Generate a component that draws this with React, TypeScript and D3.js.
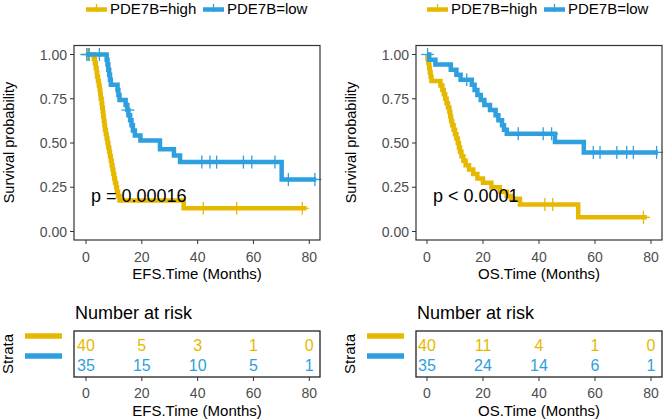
import React from 'react';
import * as d3 from 'd3';

const YELLOW = '#E7B800';
const BLUE = '#2E9FDF';
const strataLabels = ['PDE7B=high', 'PDE7B=low'];
const timeTicks = [0, 20, 40, 60, 80];
const survTicks = [0, 0.25, 0.5, 0.75, 1];
const survTickLabels = ['0.00', '0.25', '0.50', '0.75', '1.00'];

// EFS – high
const efsHighTime = [0, 2.8, 3.2, 3.5, 3.8, 4.0, 4.3, 4.6, 4.9, 5.1, 5.3, 5.6, 5.8, 6.0, 6.2, 6.4, 6.6, 6.8, 7.1, 7.4, 7.7, 8.0, 8.3, 8.6, 8.9, 9.2, 9.5, 9.8, 10.1, 10.4, 10.8, 11.1, 11.5, 12.0, 35.0, 79.0];
const efsHighSurv = [1, 0.975, 0.95, 0.925, 0.9, 0.875, 0.85, 0.825, 0.8, 0.775, 0.75, 0.725, 0.7, 0.675, 0.65, 0.625, 0.6, 0.575, 0.55, 0.525, 0.5, 0.475, 0.45, 0.425, 0.4, 0.375, 0.35, 0.325, 0.3, 0.275, 0.25, 0.225, 0.2, 0.175, 0.131, 0.131];
const efsHighCensor = [0.4, 1.2, 42, 54, 77.5];
// EFS – low
const efsLowTime = [0, 7.4, 7.7, 8.0, 8.3, 8.6, 8.9, 11.3, 11.6, 12.0, 14.2, 14.8, 15.2, 15.8, 16.3, 16.8, 17.5, 19.5, 26.5, 31.5, 33.7, 70.1, 82.5];
const efsLowSurv = [1, 0.971, 0.943, 0.914, 0.886, 0.857, 0.829, 0.8, 0.771, 0.743, 0.714, 0.686, 0.657, 0.629, 0.6, 0.571, 0.543, 0.514, 0.465, 0.43, 0.392, 0.294, 0.294];
const efsLowCensor = [0.3, 1.0, 4.8, 15.0, 41.5, 44.4, 46.8, 56.4, 59.4, 67.7, 72.5, 82.0];
// OS – high
const osHighTime = [0, 0.2, 0.5, 0.8, 1.0, 1.3, 1.6, 4.8, 5.5, 6.0, 6.5, 7.0, 7.5, 8.0, 8.3, 8.6, 9.0, 9.5, 10.0, 10.5, 11.0, 11.4, 11.8, 12.3, 13.0, 13.8, 15.0, 16.5, 18.0, 20.0, 23.0, 26.0, 28.5, 30.0, 33.2, 54.0, 78.5];
const osHighSurv = [1, 0.975, 0.95, 0.925, 0.9, 0.875, 0.85, 0.825, 0.8, 0.775, 0.75, 0.725, 0.7, 0.675, 0.65, 0.625, 0.6, 0.575, 0.55, 0.525, 0.5, 0.475, 0.45, 0.425, 0.4, 0.375, 0.35, 0.325, 0.3, 0.275, 0.25, 0.225, 0.2, 0.185, 0.152, 0.08, 0.08];
const osHighCensor = [42.1, 44.9, 77.3];
// OS – low
const osLowTime = [0, 0.8, 3.0, 8.5, 10.5, 12.0, 16.0, 17.0, 18.0, 19.2, 20.5, 22.5, 24.5, 25.5, 26.8, 27.5, 28.5, 45.7, 56.0, 82.5];
const osLowSurv = [1, 0.971, 0.943, 0.914, 0.886, 0.857, 0.829, 0.8, 0.771, 0.743, 0.714, 0.686, 0.657, 0.629, 0.6, 0.575, 0.552, 0.506, 0.447, 0.447];
const osLowCensor = [0.2, 14.2, 32.6, 41.5, 44.5, 59.4, 61.8, 67.8, 71.3, 73.7, 82.0];

const efsRiskHigh = [40, 5, 3, 1, 0];
const efsRiskLow = [35, 15, 10, 5, 1];
const osRiskHigh = [40, 11, 4, 1, 0];
const osRiskLow = [35, 24, 14, 6, 1];

const FONT = 'Liberation Sans, Arial, Helvetica, sans-serif';
const TICK_COL = '#4D4D4D';

function survAt(times: number[], survs: number[], t: number) {
  let s = survs[0];
  for (let i = 0; i < times.length; i++) if (times[i] <= t) s = survs[i];
  return s;
}

type Curve = { time: number[]; surv: number[]; censor: number[]; color: string };

function Panel(props: {
  dx: number; px0: number; px1: number; xz: number; x80: number;
  curves: Curve[]; pText: string; pX: number; xTitle: string; risks: number[][];
}) {
  const { dx, px0, px1, xz, x80, curves, pText, pX, xTitle, risks } = props;
  const x = d3.scaleLinear().domain([0, 80]).range([xz, x80]);
  const y = d3.scaleLinear().domain([0, 1]).range([231.5, 54.5]);
  const top = 45.5, bottom = 240;
  const line = d3.line<[number, number]>().x(d => x(d[0])).y(d => y(d[1])).curve(d3.curveStepAfter);
  const legendKeyX = [x(0), x(0) + 117];
  const tblTop = 331, tblBot = 377;
  const rowY = [345, 365];
  const colors = [YELLOW, BLUE];
  return (
    <g fontFamily={FONT}>
      {/* legend */}
      {strataLabels.map((lab, i) => (
        <g key={lab}>
          <line x1={legendKeyX[i]} x2={legendKeyX[i] + 21} y1={9.5} y2={9.5} stroke={colors[i]} strokeWidth={4.5} />
          <line x1={legendKeyX[i] + 10.5} x2={legendKeyX[i] + 10.5} y1={4} y2={12} stroke={colors[i]} strokeWidth={1.3} />
          <text x={legendKeyX[i] + 24} y={14} fontSize={15} fill="#000">{lab}</text>
        </g>
      ))}
      {/* y axis label */}
      <text transform={`translate(${9 + dx},${142.5}) rotate(-90)`} textAnchor="middle" dominantBaseline="central" fontSize={14.5} fill="#000">Survival probability</text>
      {/* y ticks */}
      {survTicks.map((v, i) => (
        <g key={v}>
          <line x1={px0 - 4} x2={px0} y1={y(v)} y2={y(v)} stroke="#333" strokeWidth={1} />
          <text x={px0 - 7} y={y(v)} textAnchor="end" dominantBaseline="central" fontSize={14} fill={TICK_COL}>{survTickLabels[i]}</text>
        </g>
      ))}
      {/* x ticks */}
      {timeTicks.map(v => (
        <g key={v}>
          <line x1={x(v)} x2={x(v)} y1={bottom} y2={bottom + 4} stroke="#333" strokeWidth={1} />
          <text x={x(v)} y={257} textAnchor="middle" dominantBaseline="central" fontSize={14} fill={TICK_COL}>{v}</text>
        </g>
      ))}
      <text x={(px0 + px1) / 2} y={273} textAnchor="middle" dominantBaseline="central" fontSize={15} fill="#000">{xTitle}</text>
      {/* curves */}
      {curves.map((c, ci) => {
        const pts: [number, number][] = c.time.map((t, i) => [t, c.surv[i]]);
        return (
          <g key={ci}>
            <path d={line(pts) || ''} fill="none" stroke={c.color} strokeWidth={4.5} strokeLinejoin="miter" />
            {c.censor.map((t, k) => {
              const cx = x(t), cy = y(survAt(c.time, c.surv, t));
              return (
                <g key={k}>
                  <line x1={cx} x2={cx} y1={cy - 6.5} y2={cy + 6.5} stroke={c.color} strokeWidth={1.3} />
                  <line x1={cx - 6.5} x2={cx + 6.5} y1={cy} y2={cy} stroke={c.color} strokeWidth={1.3} />
                </g>
              );
            })}
          </g>
        );
      })}
      <text x={pX} y={202} fontSize={18} fill="#000">{pText}</text>
      {/* panel border */}
      <rect x={px0} y={top} width={px1 - px0} height={bottom - top} fill="none" stroke="#333" strokeWidth={1.2} />

      {/* risk table */}
      <text x={px0 + 1} y={319} fontSize={18} fill="#000">Number at risk</text>
      <text transform={`translate(${7 + dx},${354}) rotate(-90)`} textAnchor="middle" dominantBaseline="central" fontSize={15} fill="#000">Strata</text>
      {colors.map((col, i) => (
        <line key={col} x1={25 + dx} x2={62 + dx} y1={336 + i * 20} y2={336 + i * 20} stroke={col} strokeWidth={5.5} />
      ))}
      {risks.map((row, ri) => row.map((n, k) => (
        <text key={`${ri}-${k}`} x={x(timeTicks[k])} y={rowY[ri]} textAnchor="middle" dominantBaseline="central" fontSize={16} fill={colors[ri]}>{n}</text>
      )))}
      <rect x={px0} y={tblTop} width={px1 - px0} height={tblBot - tblTop} fill="none" stroke="#222" strokeWidth={1.3} />
      {timeTicks.map(v => (
        <g key={v}>
          <line x1={x(v)} x2={x(v)} y1={tblBot} y2={tblBot + 4} stroke="#333" strokeWidth={1} />
          <text x={x(v)} y={393} textAnchor="middle" dominantBaseline="central" fontSize={14} fill={TICK_COL}>{v}</text>
        </g>
      ))}
      <text x={(px0 + px1) / 2} y={410} textAnchor="middle" dominantBaseline="central" fontSize={15} fill="#000">{xTitle}</text>
    </g>
  );
}

export default function App() {
  return (
    <svg width={663} height={420} style={{ position: 'absolute', left: 0, top: 0, background: '#fff' }}>
      <rect x={0} y={0} width={663} height={420} fill="#fff" />
      <Panel dx={0} px0={74} px1={320} xz={86} x80={309.3}
        curves={[
          { time: efsHighTime, surv: efsHighSurv, censor: efsHighCensor, color: YELLOW },
          { time: efsLowTime, surv: efsLowSurv, censor: efsLowCensor, color: BLUE },
        ]}
        pText="p = 0.00016" pX={91} xTitle="EFS.Time (Months)" risks={[efsRiskHigh, efsRiskLow]} />
      <Panel dx={342} px0={416} px1={662} xz={427} x80={651}
        curves={[
          { time: osHighTime, surv: osHighSurv, censor: osHighCensor, color: YELLOW },
          { time: osLowTime, surv: osLowSurv, censor: osLowCensor, color: BLUE },
        ]}
        pText="p < 0.0001" pX={433} xTitle="OS.Time (Months)" risks={[osRiskHigh, osRiskLow]} />
    </svg>
  );
}
